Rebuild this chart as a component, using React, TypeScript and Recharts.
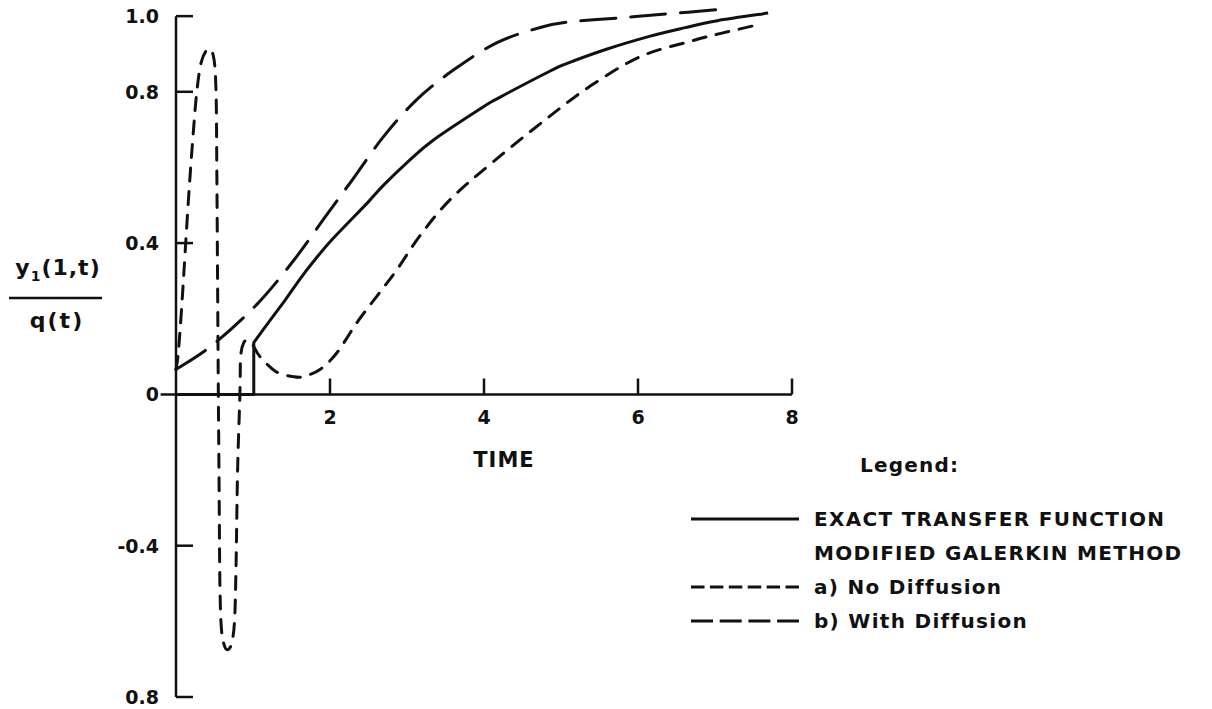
import React from 'react';
import { LineChart, Line, XAxis, YAxis, ReferenceLine, Legend } from 'recharts';

// Exact transfer function response y1(1,t)/q(t)
const exactT = [0, 1.01, 1.01, 1.2, 1.42, 1.61, 1.78, 2.03, 2.48, 2.69, 3.0, 3.34, 3.99, 4.21, 4.86, 5.08, 5.6, 6.16, 6.6, 7.03, 7.69];
const exactY = [0, 0, 0.137, 0.19, 0.25, 0.305, 0.35, 0.41, 0.505, 0.552, 0.613, 0.672, 0.76, 0.786, 0.855, 0.875, 0.913, 0.947, 0.969, 0.988, 1.008];

// Modified Galerkin method, a) no diffusion
const noDiffT = [0, 0.03, 0.08, 0.16, 0.22, 0.27, 0.33, 0.42, 0.49, 0.52, 0.53, 0.54, 0.55, 0.56, 0.57, 0.59, 0.63, 0.67, 0.72, 0.76, 0.78, 0.8, 0.83, 0.84, 0.88, 0.94, 1.0, 1.09, 1.3, 1.52, 1.65, 1.87, 2.09, 2.35, 2.61, 2.87, 3.17, 3.56, 4.12, 4.82, 5.38, 6.03, 6.71, 7.09, 7.49, 7.6];
const noDiffY = [0.066, 0.11, 0.25, 0.51, 0.68, 0.8, 0.88, 0.913, 0.89, 0.8, 0.6, 0.3, 0, -0.25, -0.5, -0.62, -0.665, -0.675, -0.66, -0.6, -0.45, -0.2, 0, 0.1, 0.137, 0.142, 0.13, 0.1, 0.06, 0.047, 0.047, 0.066, 0.11, 0.19, 0.26, 0.33, 0.42, 0.515, 0.615, 0.73, 0.815, 0.893, 0.935, 0.955, 0.974, 0.98];

// Modified Galerkin method, b) with diffusion
const withDiffT = [0, 0.47, 1.06, 1.55, 1.94, 2.3, 2.69, 3.13, 3.62, 4.17, 4.73, 5.08, 5.73, 6.32, 7.09];
const withDiffY = [0.066, 0.13, 0.24, 0.36, 0.47, 0.57, 0.68, 0.78, 0.86, 0.93, 0.97, 0.984, 0.995, 1.005, 1.018];

const yTickValues = [-0.8, -0.4, 0, 0.4, 0.8, 1.0];
const yTickLabels = ['0.8', '-0.4', '0', '0.4', '0.8', '1.0'];
const xTickValues = [2, 4, 6, 8];
const xTickLabels = ['2', '4', '6', '8'];

const seriesNames = ['EXACT TRANSFER FUNCTION', 'a) No Diffusion', 'b) With Diffusion'];
const legendHeading = 'Legend:';
const legendGroupTitle = 'MODIFIED GALERKIN METHOD';

const toPoints = (t: number[], y: number[]) => t.map((v, i) => ({ t: v, y: y[i] }));
const exactData = toPoints(exactT, exactY);
const noDiffData = toPoints(noDiffT, noDiffY);
const withDiffData = toPoints(withDiffT, withDiffY);

const INK = '#111';
const FONT = '"DejaVu Sans", sans-serif';

// Catmull-Rom curve through every point (handles looping paths).
// A vertical segment (same x at both ends) is drawn as a straight jump and
// splits the path into independently smoothed runs.
function catmullRom(context: any) {
  let pts: number[][] = [];
  const drawRun = (run: number[][]) => {
    for (let i = 0; i < run.length - 1; i++) {
      const p0 = run[i - 1] || run[i];
      const p1 = run[i];
      const p2 = run[i + 1];
      const p3 = run[i + 2] || p2;
      context.bezierCurveTo(
        p1[0] + (p2[0] - p0[0]) / 6,
        p1[1] + (p2[1] - p0[1]) / 6,
        p2[0] - (p3[0] - p1[0]) / 6,
        p2[1] - (p3[1] - p1[1]) / 6,
        p2[0],
        p2[1]
      );
    }
  };
  return {
    areaStart() {},
    areaEnd() {},
    lineStart() {
      pts = [];
    },
    point(x: number, y: number) {
      pts.push([+x, +y]);
    },
    lineEnd() {
      if (!pts.length) return;
      const runs: number[][][] = [];
      let cur: number[][] = [pts[0]];
      for (let i = 1; i < pts.length; i++) {
        if (Math.abs(pts[i][0] - pts[i - 1][0]) < 0.01) {
          runs.push(cur);
          cur = [pts[i]];
        } else {
          cur.push(pts[i]);
        }
      }
      runs.push(cur);
      context.moveTo(pts[0][0], pts[0][1]);
      runs.forEach((run, k) => {
        if (k > 0) context.lineTo(run[0][0], run[0][1]);
        drawRun(run);
      });
    },
  };
}

const YTick = (props: any) => {
  const { x, y, payload } = props;
  const idx = yTickValues.indexOf(payload.value);
  return (
    <g>
      {payload.value !== 0 && (
        <line x1={x} x2={x + 17} y1={y} y2={y} stroke={INK} strokeWidth={2.5} />
      )}
      <text
        x={x - 17}
        y={y}
        dy="0.36em"
        textAnchor="end"
        fontFamily={FONT}
        fontWeight="bold"
        fontSize={19}
        fill={INK}
      >
        {yTickLabels[idx]}
      </text>
    </g>
  );
};

const legendSample: Record<string, string | undefined> = {
  'EXACT TRANSFER FUNCTION': undefined,
  'a) No Diffusion': '13.5 5.4',
  'b) With Diffusion': '22 6.7',
};

const LegendBox = (props: any) => {
  const payload = props.payload || [];
  const rowY = [79, 147, 181];
  const textStyle = {
    fontFamily: FONT,
    fontWeight: 'bold' as const,
    fontSize: 20,
    fill: INK,
    letterSpacing: 1.3,
  };
  return (
    <svg width={530} height={210} style={{ overflow: 'visible' }}>
      <text x={180} y={25} dy="0.36em" {...textStyle} letterSpacing={1.2}>
        {legendHeading}
      </text>
      {payload.map((entry: any, i: number) => (
        <g key={entry.value}>
          <line
            x1={11}
            x2={119}
            y1={rowY[i]}
            y2={rowY[i]}
            stroke={INK}
            strokeWidth={3}
            strokeDasharray={legendSample[entry.value]}
          />
          <text x={134} y={rowY[i]} dy="0.36em" {...textStyle}>
            {entry.value}
          </text>
        </g>
      ))}
      <text x={134} y={113} dy="0.36em" {...textStyle}>
        {legendGroupTitle}
      </text>
    </svg>
  );
};

export default function App() {
  return (
    <div style={{ position: 'absolute', left: 0, top: 0, width: 1212, height: 709, background: '#fff' }}>
      <LineChart width={1212} height={709} margin={{ top: 1, right: 420, bottom: 12, left: 116 }}>
        <XAxis type="number" dataKey="t" domain={[0, 8]} hide />
        <YAxis
          type="number"
          dataKey="y"
          domain={[-0.8, 1.04]}
          ticks={yTickValues}
          interval={0}
          width={60}
          axisLine={false}
          tickLine={false}
          tickSize={0}
          tickMargin={0}
          tick={<YTick />}
        />
        {/* vertical axis from -0.8 up to 1.0 */}
        <ReferenceLine
          segment={[{ x: 0, y: -0.8 }, { x: 0, y: 1.0 }]}
          stroke={INK}
          strokeWidth={2.5}
          ifOverflow="visible"
        />
        {/* time axis drawn through y = 0 */}
        <ReferenceLine
          segment={[{ x: -0.2, y: 0 }, { x: 8, y: 0 }]}
          stroke={INK}
          strokeWidth={2.5}
          ifOverflow="visible"
        />
        {xTickValues.map((v, i) => (
          <ReferenceLine
            key={v}
            segment={[{ x: v, y: 0 }, { x: v, y: 0.042 }]}
            stroke={INK}
            strokeWidth={2.5}
            ifOverflow="visible"
            label={{
              value: xTickLabels[i],
              position: 'bottom',
              offset: 16,
              fill: INK,
              fontSize: 19,
              fontWeight: 'bold',
              fontFamily: FONT,
            }}
          />
        ))}
        <Line
          data={exactData}
          dataKey="y"
          name={seriesNames[0]}
          type={catmullRom as any}
          stroke={INK}
          strokeWidth={3}
          strokeLinejoin="round"
          dot={false}
          activeDot={false}
          isAnimationActive={false}
        />
        <Line
          data={noDiffData}
          dataKey="y"
          name={seriesNames[1]}
          type={catmullRom as any}
          stroke={INK}
          strokeWidth={3}
          strokeDasharray="13 10.6"
          strokeLinecap="round"
          dot={false}
          activeDot={false}
          isAnimationActive={false}
        />
        <Line
          data={withDiffData}
          dataKey="y"
          name={seriesNames[2]}
          type={catmullRom as any}
          stroke={INK}
          strokeWidth={3}
          strokeDasharray="35 15"
          strokeLinecap="round"
          dot={false}
          activeDot={false}
          isAnimationActive={false}
        />
        <Legend
          layout="vertical"
          align="center"
          verticalAlign="middle"
          content={<LegendBox />}
          wrapperStyle={{ position: 'absolute', left: 680, top: 440, width: 530, height: 210 }}
        />
      </LineChart>
      <svg
        width={1212}
        height={709}
        style={{ position: 'absolute', left: 0, top: 0, pointerEvents: 'none' }}
      >
        <text x={58} y={267} dy="0.36em" textAnchor="middle" fontFamily={FONT} fontWeight="bold" fontSize={22} fill={INK} letterSpacing={1}>
          y<tspan dy={6} fontSize={14}>1</tspan>
          <tspan dy={-6}>(1,t)</tspan>
        </text>
        <line x1={9} x2={102} y1={298} y2={298} stroke={INK} strokeWidth={2.5} />
        <text x={57} y={320} dy="0.36em" textAnchor="middle" fontFamily={FONT} fontWeight="bold" fontSize={22} fill={INK} letterSpacing={2}>
          q(t)
        </text>
        <text x={504} y={459} dy="0.36em" textAnchor="middle" fontFamily={FONT} fontWeight="bold" fontSize={21} fill={INK} letterSpacing={1}>
          TIME
        </text>
      </svg>
    </div>
  );
}
